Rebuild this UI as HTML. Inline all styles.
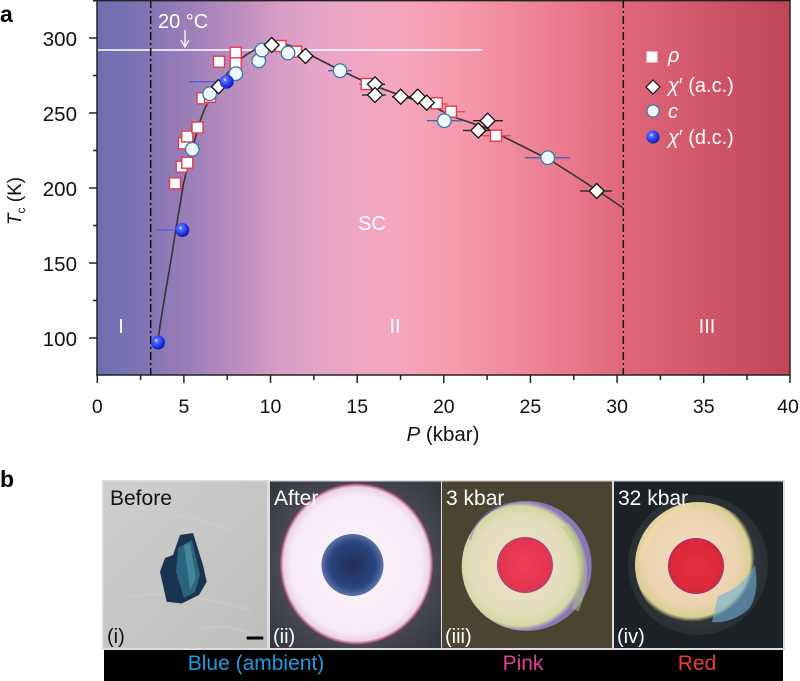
<!DOCTYPE html>
<html><head><meta charset="utf-8">
<style>
html,body{margin:0;padding:0;background:#fff;}
svg{display:block;font-family:"Liberation Sans",Arial,sans-serif;}
</style></head>
<body>
<svg width="800" height="681" viewBox="0 0 800 681" xmlns="http://www.w3.org/2000/svg">
<defs>
<linearGradient id="bg" gradientUnits="userSpaceOnUse" x1="97" y1="0" x2="790" y2="0">
<stop offset="0" stop-color="#6b6fb0"/>
<stop offset="0.077" stop-color="#8474b4"/>
<stop offset="0.149" stop-color="#a382b9"/>
<stop offset="0.264" stop-color="#d89cc6"/>
<stop offset="0.336" stop-color="#e9a6c6"/>
<stop offset="0.437" stop-color="#f5a6bd"/>
<stop offset="0.524" stop-color="#f699ad"/>
<stop offset="0.639" stop-color="#ee8295"/>
<stop offset="0.755" stop-color="#e0687a"/>
<stop offset="0.870" stop-color="#d1586a"/>
<stop offset="1" stop-color="#bf4658"/>
</linearGradient>
<radialGradient id="ball" cx="0.38" cy="0.35" r="0.7">
<stop offset="0" stop-color="#e8ecff"/>
<stop offset="0.2" stop-color="#5a70ff"/>
<stop offset="0.65" stop-color="#1f35e8"/>
<stop offset="1" stop-color="#0b1890"/>
</radialGradient>
<linearGradient id="p1" x1="0" y1="0" x2="1" y2="1">
<stop offset="0" stop-color="#cfcfcd"/>
<stop offset="0.5" stop-color="#c6c6c4"/>
<stop offset="1" stop-color="#bdbdbb"/>
</linearGradient>
<radialGradient id="p2c" cx="0.5" cy="0.5" r="0.5">
<stop offset="0" stop-color="#faf4fb"/>
<stop offset="0.85" stop-color="#f6eaf6"/>
<stop offset="0.95" stop-color="#ecd2e6"/>
<stop offset="1" stop-color="#7a2a50"/>
</radialGradient>
<radialGradient id="p2bg" cx="0.5" cy="0.5" r="0.7">
<stop offset="0" stop-color="#6a6a78"/>
<stop offset="1" stop-color="#34363e"/>
</radialGradient>
<radialGradient id="p3c" cx="0.45" cy="0.5" r="0.5">
<stop offset="0" stop-color="#ece6c8"/>
<stop offset="0.75" stop-color="#e2dcbc"/>
<stop offset="0.92" stop-color="#d4d8a4"/>
<stop offset="1" stop-color="#8878b8"/>
</radialGradient>
<radialGradient id="p4c" cx="0.45" cy="0.45" r="0.5">
<stop offset="0" stop-color="#f2dcc0"/>
<stop offset="0.75" stop-color="#ecd2b0"/>
<stop offset="0.93" stop-color="#d8d090"/>
<stop offset="1" stop-color="#303438"/>
</radialGradient>
<radialGradient id="red3" cx="0.5" cy="0.5" r="0.5">
<stop offset="0" stop-color="#ec4058"/>
<stop offset="0.9" stop-color="#e4344e"/>
<stop offset="1" stop-color="#a04880"/>
</radialGradient>
<radialGradient id="red4" cx="0.5" cy="0.5" r="0.5">
<stop offset="0" stop-color="#e83040"/>
<stop offset="0.9" stop-color="#dc2838"/>
<stop offset="1" stop-color="#a03070"/>
</radialGradient>
<radialGradient id="blk" cx="0.5" cy="0.5" r="0.5">
<stop offset="0" stop-color="#1e2e56"/>
<stop offset="0.75" stop-color="#2a4680"/>
<stop offset="1" stop-color="#6070a8"/>
</radialGradient>
<clipPath id="c2"><rect x="270" y="481" width="171" height="167"/></clipPath>
<clipPath id="c3"><rect x="442" y="481" width="170" height="167"/></clipPath>
<clipPath id="c4"><rect x="614" y="481" width="169" height="167"/></clipPath>
</defs>

<!-- plot background -->
<rect x="97" y="0" width="693" height="375" fill="url(#bg)"/>
<line x1="97" y1="0.7" x2="790" y2="0.7" stroke="#222" stroke-width="1.4"/>
<line x1="790" y1="0" x2="790" y2="375" stroke="#222" stroke-width="1.4"/>

<!-- 20 C line -->
<line x1="97" y1="50" x2="482" y2="50" stroke="#fff" stroke-width="1.6"/>
<line x1="185" y1="30" x2="185" y2="46" stroke="#fff" stroke-width="1.3"/>
<path d="M181,40 L185,47 L189,40" fill="none" stroke="#fff" stroke-width="1.3"/>
<text x="158" y="28" font-size="20" fill="#fff">20 °C</text>

<!-- dash-dot lines -->
<line x1="150.7" y1="0" x2="150.7" y2="375" stroke="#111" stroke-width="1.5" stroke-dasharray="8,3,2,3"/>
<line x1="623.3" y1="0" x2="623.3" y2="375" stroke="#111" stroke-width="1.5" stroke-dasharray="8,3,2,3"/>

<!-- region labels -->
<text x="121" y="333" font-size="20" fill="#fff" text-anchor="middle">I</text>
<text x="395" y="333" font-size="20" fill="#fff" text-anchor="middle">II</text>
<text x="707" y="333" font-size="20" fill="#fff" text-anchor="middle">III</text>
<text x="372" y="230" font-size="20" fill="#fff" text-anchor="middle">SC</text>

<!-- curve -->
<polyline fill="none" stroke="#333" stroke-width="1.6" stroke-linejoin="round"
points="157.7,342.5 160.5,323 163.5,304 166.7,285 170,266 173,248 176,228 179,211 181,199 183,186 186,173 190,160 195,139 200,121 205,108 210,99 215,91 222,80 230,70 238,61 246,55 254,50 263,46.5 272,44 282,43.5 292,46 300,49.5 320,60 340,70 358,78.5 376.7,86.7 398,94.5 420,101.7 437,108.5 453,116.7 470,122.5 486.7,128.3 503,136.5 520,145 535,152.5 550,160 573,174.5 596.7,190 610,199 623,208"/>

<!-- error bars -->
<g stroke-width="1.3">
<g stroke="#e84a5a">
<line x1="359" y1="84" x2="375" y2="84"/>
<line x1="428" y1="104" x2="448" y2="104"/>
<line x1="443" y1="111.7" x2="465" y2="111.7"/>
<line x1="482" y1="135.7" x2="511" y2="135.7"/>
<line x1="169" y1="183.3" x2="181" y2="183.3"/>
<line x1="176" y1="166.7" x2="193" y2="166.7"/>
<line x1="191" y1="127.5" x2="204" y2="127.5"/>
<line x1="178" y1="143.3" x2="193" y2="143.3"/>
</g>
<g stroke="#222">
<line x1="362" y1="84.3" x2="385" y2="84.3"/>
<line x1="362" y1="95" x2="386" y2="95"/>
<line x1="392" y1="96.7" x2="410" y2="96.7"/>
<line x1="418" y1="102.7" x2="440" y2="102.7"/>
<line x1="473" y1="120.7" x2="503" y2="120.7"/>
<line x1="463" y1="130.5" x2="495" y2="130.5"/>
<line x1="580" y1="191" x2="612" y2="191"/>
</g>
<g stroke="#4a62b4">
<line x1="328" y1="70.7" x2="352" y2="70.7"/>
<line x1="427" y1="120.7" x2="462" y2="120.7"/>
<line x1="525" y1="157.7" x2="570" y2="157.7"/>
<line x1="252" y1="60.8" x2="266" y2="60.8"/>
</g>
<g stroke="#5060e0">
<line x1="156.7" y1="230" x2="182" y2="230"/>
<line x1="189" y1="81.7" x2="226" y2="81.7"/>
</g>
</g>

<!-- squares -->
<g fill="#fff" stroke="#e43a4c" stroke-width="1.4">
<rect x="169.5" y="177.8" width="11" height="11"/>
<rect x="176.2" y="161.2" width="11" height="11"/>
<rect x="181.8" y="157.2" width="11" height="11"/>
<rect x="178.5" y="137.8" width="11" height="11"/>
<rect x="181.8" y="131" width="11" height="11"/>
<rect x="192" y="122" width="11" height="11"/>
<rect x="197" y="92.8" width="11" height="11"/>
<rect x="204.5" y="91.2" width="11" height="11"/>
<rect x="213.5" y="56.2" width="11" height="11"/>
<rect x="230.2" y="47.2" width="11" height="11"/>
<rect x="230.2" y="57.8" width="11" height="11"/>
<rect x="275" y="40.5" width="11" height="11"/>
<rect x="290.5" y="46.2" width="11" height="11"/>
<rect x="361.2" y="78.5" width="11" height="11"/>
<rect x="431.2" y="97.8" width="11" height="11"/>
<rect x="445.5" y="106.2" width="11" height="11"/>
<rect x="490.5" y="130.2" width="11" height="11"/>
</g>

<!-- circles -->
<g fill="#eef7fb" stroke="#3a78a8" stroke-width="1.3">
<circle cx="192.3" cy="149.3" r="6.8"/>
<circle cx="209.7" cy="93.7" r="6.8"/>
<circle cx="235.8" cy="73.7" r="6.8"/>
<circle cx="258.7" cy="60.8" r="6.8"/>
<circle cx="262" cy="50" r="6.8"/>
<circle cx="288" cy="53" r="6.8"/>
<circle cx="340" cy="70.7" r="6.8"/>
<circle cx="444.3" cy="120.7" r="6.8"/>
<circle cx="547.7" cy="157.7" r="6.8"/>
</g>

<!-- diamonds -->
<g fill="#fff" stroke="#111" stroke-width="1.3">
<path d="M218.5,79.7 L225.5,86.7 L218.5,93.7 L211.5,86.7 Z"/>
<path d="M271.7,37.5 L279.2,45 L271.7,52.5 L264.2,45 Z"/>
<path d="M305.5,48.5 L313,56 L305.5,63.5 L298,56 Z"/>
<path d="M375,76.8 L382.5,84.3 L375,91.8 L367.5,84.3 Z"/>
<path d="M375,87.5 L382.5,95 L375,102.5 L367.5,95 Z"/>
<path d="M400.7,89.2 L408.2,96.7 L400.7,104.2 L393.2,96.7 Z"/>
<path d="M417.7,89.2 L425.2,96.7 L417.7,104.2 L410.2,96.7 Z"/>
<path d="M426.7,95.2 L434.2,102.7 L426.7,110.2 L419.2,102.7 Z"/>
<path d="M487.7,113.2 L495.2,120.7 L487.7,128.2 L480.2,120.7 Z"/>
<path d="M478.3,123 L485.8,130.5 L478.3,138 L470.8,130.5 Z"/>
<path d="M596.7,183.5 L604.2,191 L596.7,198.5 L589.2,191 Z"/>
</g>

<!-- balls -->
<circle cx="158" cy="342.5" r="7" fill="url(#ball)"/>
<circle cx="182.3" cy="230" r="7" fill="url(#ball)"/>
<circle cx="226.7" cy="81.7" r="7" fill="url(#ball)"/>

<!-- legend -->
<rect x="647" y="52" width="10" height="10" fill="#fff" stroke="#fff"/>
<path d="M653,80 L660,87 L653,94 L646,87 Z" fill="#fff" stroke="#111" stroke-width="1.2"/>
<circle cx="653" cy="111" r="6" fill="#eef7fb" stroke="#3a78a8" stroke-width="1.2"/>
<circle cx="653" cy="137" r="6.5" fill="url(#ball)"/>
<g font-size="20" fill="#fff">
<text x="668" y="62" font-style="italic">ρ</text>
<text x="668" y="92"><tspan font-style="italic">χ</tspan>′ (a.c.)</text>
<text x="668" y="118" font-style="italic">c</text>
<text x="668" y="144"><tspan font-style="italic">χ</tspan>′ (d.c.)</text>
</g>

<!-- axes -->
<g stroke="#222" stroke-width="1.5">
<line x1="97" y1="0" x2="97" y2="375.7"/>
<line x1="96.3" y1="375" x2="790.7" y2="375"/>
<line x1="89" y1="38" x2="97" y2="38"/>
<line x1="89" y1="113" x2="97" y2="113"/>
<line x1="89" y1="188" x2="97" y2="188"/>
<line x1="89" y1="263" x2="97" y2="263"/>
<line x1="89" y1="338" x2="97" y2="338"/>
<line x1="93" y1="0.8" x2="97" y2="0.8"/>
<line x1="93" y1="75.5" x2="97" y2="75.5"/>
<line x1="93" y1="150.5" x2="97" y2="150.5"/>
<line x1="93" y1="225.5" x2="97" y2="225.5"/>
<line x1="93" y1="300.5" x2="97" y2="300.5"/>
<line x1="97.3" y1="375" x2="97.3" y2="383"/>
<line x1="183.9" y1="375" x2="183.9" y2="383"/>
<line x1="270.5" y1="375" x2="270.5" y2="383"/>
<line x1="357.2" y1="375" x2="357.2" y2="383"/>
<line x1="443.8" y1="375" x2="443.8" y2="383"/>
<line x1="530.4" y1="375" x2="530.4" y2="383"/>
<line x1="617.1" y1="375" x2="617.1" y2="383"/>
<line x1="703.7" y1="375" x2="703.7" y2="383"/>
<line x1="790" y1="375" x2="790" y2="383"/>
<line x1="140.6" y1="375" x2="140.6" y2="380"/>
<line x1="227.2" y1="375" x2="227.2" y2="380"/>
<line x1="313.9" y1="375" x2="313.9" y2="380"/>
<line x1="400.5" y1="375" x2="400.5" y2="380"/>
<line x1="487.1" y1="375" x2="487.1" y2="380"/>
<line x1="573.8" y1="375" x2="573.8" y2="380"/>
<line x1="660.4" y1="375" x2="660.4" y2="380"/>
<line x1="747" y1="375" x2="747" y2="380"/>
</g>
<g font-size="20.5" fill="#111" text-anchor="end">
<text x="77" y="46">300</text>
<text x="77" y="121">250</text>
<text x="77" y="196">200</text>
<text x="77" y="271">150</text>
<text x="77" y="346">100</text>
</g>
<g font-size="19.5" fill="#111" text-anchor="middle">
<text x="97.3" y="413">0</text>
<text x="183.9" y="413">5</text>
<text x="270.5" y="413">10</text>
<text x="357.2" y="413">15</text>
<text x="443.8" y="413">20</text>
<text x="530.4" y="413">25</text>
<text x="617.1" y="413">30</text>
<text x="703.7" y="413">35</text>
<text x="788" y="413">40</text>
</g>
<text x="443" y="441" font-size="20.5" fill="#111" text-anchor="middle"><tspan font-style="italic">P</tspan> (kbar)</text>
<text transform="translate(21,201) rotate(-90)" font-size="19" fill="#111" text-anchor="middle"><tspan font-style="italic">T</tspan><tspan font-size="12" dy="4">c</tspan><tspan dy="-4"> (K)</tspan></text>

<text x="0" y="22" font-size="23" font-weight="bold" fill="#000">a</text>
<text x="0" y="487" font-size="23" font-weight="bold" fill="#000">b</text>

<!-- panel b -->
<rect x="102" y="480" width="683" height="170" fill="#ddd"/>
<!-- (i) -->
<rect x="103.5" y="481.5" width="163.5" height="166.5" fill="url(#p1)"/>
<path d="M120,520 Q170,505 230,530 M115,600 Q160,585 250,610 M200,630 Q230,620 260,640" stroke="#d2d2d0" stroke-width="3" fill="none" opacity="0.35"/>
<polygon points="180,535 193,533 203,565 206.7,581.7 199,595 181.7,603.5 166.7,601.7 160,571.7 165,558 173,555" fill="#1a3450"/>
<polygon points="178,548 192,540 200,575 195,592 184,598 176,572" fill="#2f7088" opacity="0.8"/>
<polygon points="184,545 190,543 196,578 190,590" fill="#5aa0b4" opacity="0.55"/>
<rect x="246.7" y="636.5" width="16.6" height="3" fill="#000"/>
<text x="110" y="505" font-size="21" fill="#111">Before</text>
<text x="107" y="643" font-size="20" fill="#111">(i)</text>

<!-- (ii) -->
<g clip-path="url(#c2)">
<rect x="270" y="481.5" width="171" height="166.5" fill="url(#p2bg)"/>
<ellipse cx="356.5" cy="564" rx="77" ry="81" fill="url(#p2c)"/>
<circle cx="352.5" cy="565" r="31" fill="url(#blk)"/>
</g>
<text x="274" y="505" font-size="21" fill="#fff">After</text>
<text x="273" y="643" font-size="20" fill="#fff">(ii)</text>

<!-- (iii) -->
<g clip-path="url(#c3)">
<rect x="442" y="481.5" width="170" height="166.5" fill="#4a4430"/>
<circle cx="526.7" cy="566" r="65" fill="url(#p3c)"/>
<path d="M470,540 Q480,505 520,502" stroke="#7078d8" stroke-width="2" fill="none" opacity="0.5"/>
<path d="M565,525 Q595,560 575,610" stroke="#b8c880" stroke-width="8" fill="none" opacity="0.5"/>
<circle cx="525" cy="565" r="28" fill="url(#red3)"/>
</g>
<text x="446" y="505" font-size="21" fill="#fff">3 kbar</text>
<text x="445" y="643" font-size="20" fill="#fff">(iii)</text>

<!-- (iv) -->
<g clip-path="url(#c4)">
<rect x="614" y="481.5" width="169" height="166.5" fill="#1c2226"/>
<circle cx="698" cy="565" r="70" fill="#2a3034"/>
<circle cx="698" cy="565" r="63" fill="url(#p4c)"/>
<path d="M718,596 Q742,588 755,565 Q760,595 748,610 Q730,624 712,622 Z" fill="#70b0d8" opacity="0.6"/>
<path d="M640,560 Q650,520 690,505" stroke="#f0e0a0" stroke-width="5" fill="none" opacity="0.5"/>
<circle cx="696" cy="566" r="28" fill="url(#red4)"/>
</g>
<text x="618" y="505" font-size="21" fill="#fff">32 kbar</text>
<text x="617" y="643" font-size="20" fill="#fff">(iv)</text>

<!-- black bar -->
<rect x="104" y="650" width="679" height="31" fill="#000"/>
<text x="256" y="670" font-size="21" fill="#1e9be0" text-anchor="middle">Blue (ambient)</text>
<text x="523" y="670" font-size="21" fill="#e0409a" text-anchor="middle">Pink</text>
<text x="697" y="670" font-size="21" fill="#ee3a3a" text-anchor="middle">Red</text>
</svg>
</body></html>
